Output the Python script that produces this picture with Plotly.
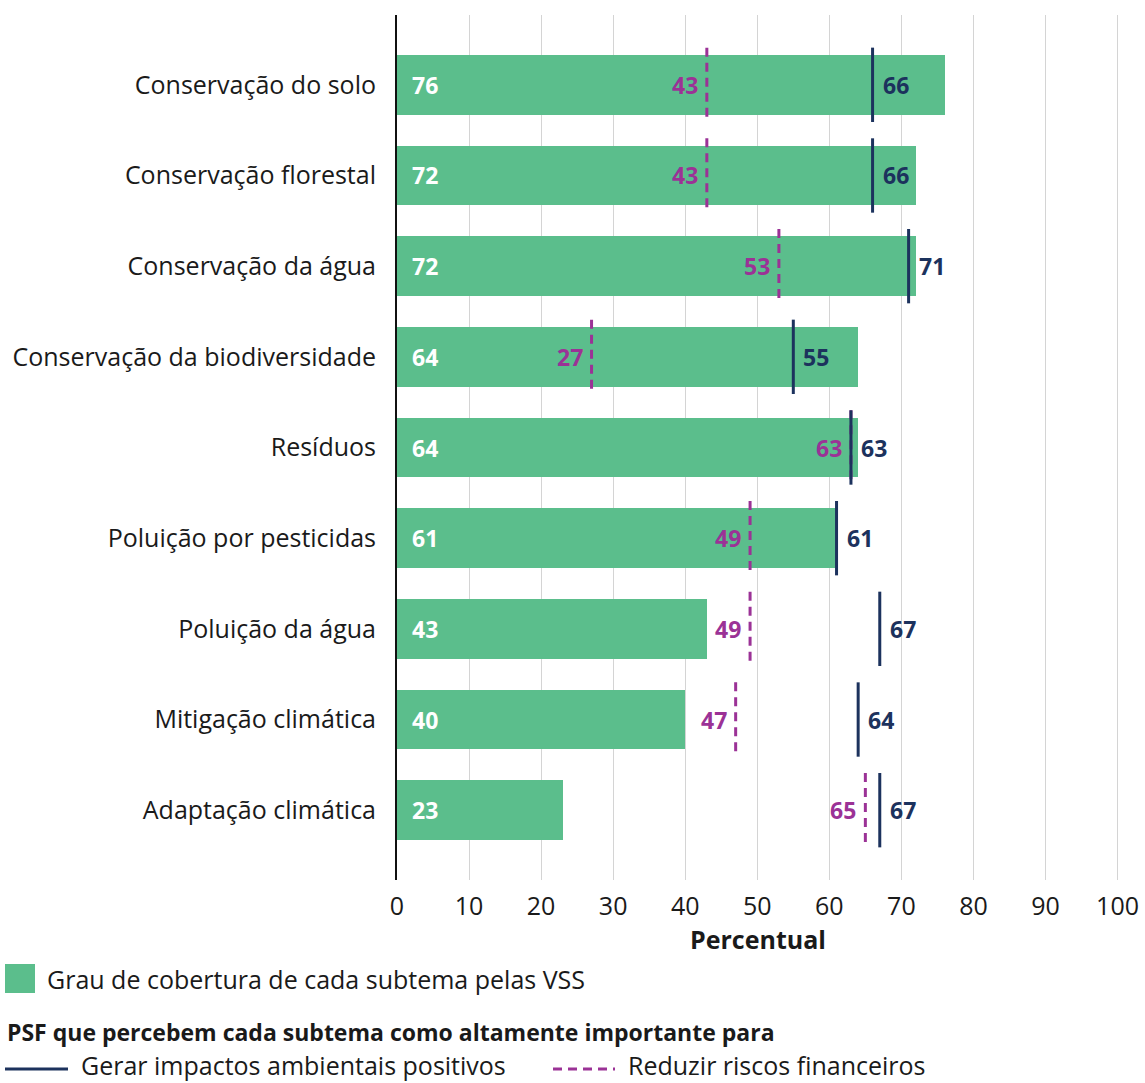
import plotly.graph_objects as go

categories = [
    "Conservação do solo",
    "Conservação florestal",
    "Conservação da água",
    "Conservação da biodiversidade",
    "Resíduos",
    "Poluição por pesticidas",
    "Poluição da água",
    "Mitigação climática",
    "Adaptação climática",
]
coverage = [76, 72, 72, 64, 64, 61, 43, 40, 23]
impacts = [66, 66, 71, 55, 63, 61, 67, 64, 67]
risks = [43, 43, 53, 27, 63, 49, 49, 47, 65]
x_ticks = [0, 10, 20, 30, 40, 50, 60, 70, 80, 90, 100]

GREEN = "#5bbe8c"
NAVY = "#1c325d"
MAGENTA = "#9b3296"
FONT = "Open Sans"
FS = 25

W, H = 1145, 1083
ML, MR, MT, MB = 397, 26, 15, 203
PW, PH = W - ML - MR, H - MT - MB


def px(x):
    return (x - ML) / PW


def py(y):
    return (H - MB - y) / PH


idx = list(range(len(categories)))
half = 0.41

fig = go.Figure()
fig.add_trace(go.Bar(
    x=coverage, y=idx, orientation="h", width=0.66,
    marker=dict(color=GREEN, line=dict(width=0)),
    showlegend=False, hoverinfo="x+y",
))


def seg(vals):
    xs, ys = [], []
    for i, v in enumerate(vals):
        xs += [v, v, None]
        ys += [i - half, i + half, None]
    return xs, ys


rx, ry = seg(risks)
fig.add_trace(go.Scatter(x=rx, y=ry, mode="lines",
                         line=dict(color=MAGENTA, width=3, dash="9px,6px"),
                         showlegend=False, hoverinfo="skip"))
ix, iy = seg(impacts)
fig.add_trace(go.Scatter(x=ix, y=iy, mode="lines",
                         line=dict(color=NAVY, width=3),
                         showlegend=False, hoverinfo="skip"))

LFS = 23
annotations = []
for i in idx:
    annotations.append(dict(x=0, y=i, xref="x", yref="y", text=str(coverage[i]),
                            xanchor="left", yanchor="middle", xshift=13, showarrow=False,
                            font=dict(family=FONT, size=LFS, color="white", weight="bold")))
    annotations.append(dict(x=risks[i], y=i, xref="x", yref="y", text=str(risks[i]),
                            xanchor="right", yanchor="middle", xshift=-7, showarrow=False,
                            font=dict(family=FONT, size=LFS, color=MAGENTA, weight="bold")))
    annotations.append(dict(x=impacts[i], y=i, xref="x", yref="y", text=str(impacts[i]),
                            xanchor="left", yanchor="middle", xshift=8, showarrow=False,
                            font=dict(family=FONT, size=LFS, color=NAVY, weight="bold")))

# custom legend
shapes = [
    dict(type="rect", xref="paper", yref="paper", x0=px(5), x1=px(35), y0=py(993), y1=py(964),
         fillcolor=GREEN, line=dict(width=0)),
    dict(type="line", xref="paper", yref="paper", x0=px(5), x1=px(68), y0=py(1069), y1=py(1069),
         line=dict(color=NAVY, width=3)),
    dict(type="line", xref="paper", yref="paper", x0=px(553), x1=px(615), y0=py(1069), y1=py(1069),
         line=dict(color=MAGENTA, width=3, dash="9px,6px")),
]
legend_font = dict(family=FONT, size=FS, color="#1a1a1a")
annotations += [
    dict(x=px(46), y=py(979), xref="paper", yref="paper", text="Grau de cobertura de cada subtema pelas VSS",
         xanchor="left", yanchor="middle", showarrow=False, font=legend_font, borderpad=0),
    dict(x=px(6), y=py(1032), xref="paper", yref="paper",
         text="<b>PSF que percebem cada subtema como altamente importante para</b>",
         xanchor="left", yanchor="middle", showarrow=False,
         font=dict(family=FONT, size=23, color="#1a1a1a"), borderpad=0),
    dict(x=px(80), y=py(1083), xref="paper", yref="paper", text="Gerar impactos ambientais positivos",
         xanchor="left", yanchor="bottom", showarrow=False, font=legend_font, borderpad=0),
    dict(x=px(627), y=py(1083), xref="paper", yref="paper", text="Reduzir riscos financeiros",
         xanchor="left", yanchor="bottom", showarrow=False, font=legend_font, borderpad=0),
]

fig.update_layout(
    width=W, height=H,
    margin=dict(l=ML, r=MR, t=MT, b=MB, pad=0),
    paper_bgcolor="white", plot_bgcolor="white",
    font=dict(family=FONT, size=FS, color="#1a1a1a"),
    bargap=0,
    shapes=shapes,
    annotations=annotations,
    xaxis=dict(
        range=[0, 100.2], tickvals=x_ticks, ticktext=[str(t) for t in x_ticks],
        showgrid=True, gridcolor="#d4d4d4", gridwidth=1, automargin=False,
        zeroline=False, showline=False, ticks="", ticklabelstandoff=9,
        tickfont=dict(family=FONT, size=FS, color="#1a1a1a"),
        title=dict(text="<b>Percentual</b>", standoff=6,
                   font=dict(family=FONT, size=FS, color="#1a1a1a")),
    ),
    yaxis=dict(
        range=[8.77, -0.77], tickvals=idx, ticktext=categories, automargin=False,
        showgrid=False, zeroline=False, showline=True, linecolor="#111111", linewidth=2,
        ticks="", ticklabelstandoff=14,
        tickfont=dict(family=FONT, size=FS, color="#1a1a1a"),
    ),
)

fig.write_html("out.html")
